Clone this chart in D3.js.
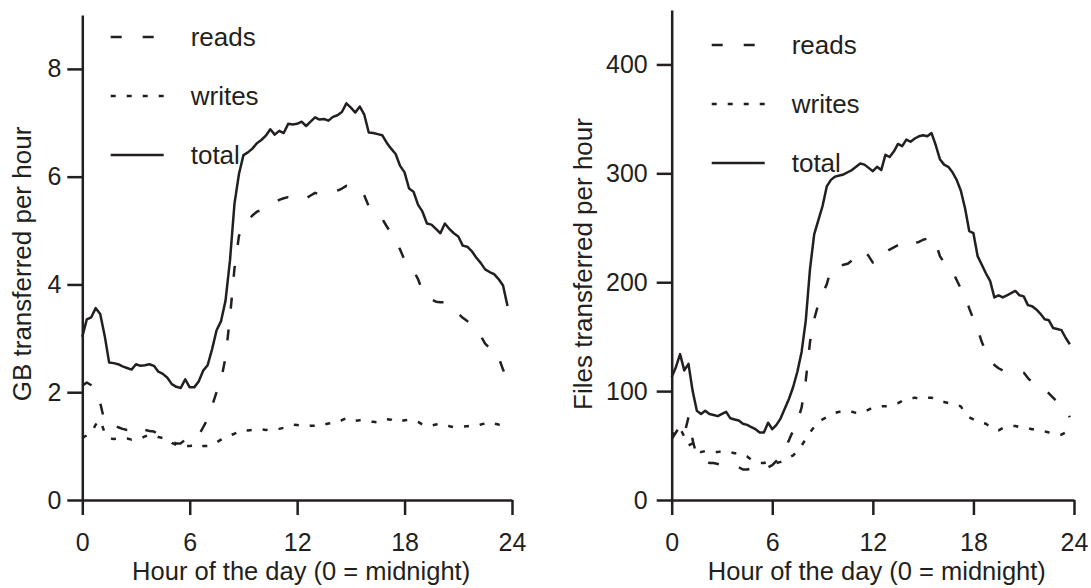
<!DOCTYPE html>
<html>
<head>
<meta charset="utf-8">
<script src="https://cdn.jsdelivr.net/npm/d3@7"></script>
<style>
  html, body { margin: 0; padding: 0; background: #fff; }
  svg { display: block; }
  text { font-family: "Liberation Sans", Arial, Helvetica, sans-serif; fill: #231f20; }
</style>
</head>
<body>
<svg id="chart" width="1091" height="588"></svg>
<script>
// Quarter-hour sample times (hour of the day)
const hours = [
  0, 0.25, 0.5, 0.75, 1, 1.25, 1.5, 1.75,
  2, 2.25, 2.5, 2.75, 3, 3.25, 3.5, 3.75,
  4, 4.25, 4.5, 4.75, 5, 5.25, 5.5, 5.75,
  6, 6.25, 6.5, 6.75, 7, 7.25, 7.5, 7.75,
  8, 8.25, 8.5, 8.75, 9, 9.25, 9.5, 9.75,
  10, 10.25, 10.5, 10.75, 11, 11.25, 11.5, 11.75,
  12, 12.25, 12.5, 12.75, 13, 13.25, 13.5, 13.75,
  14, 14.25, 14.5, 14.75, 15, 15.25, 15.5, 15.75,
  16, 16.25, 16.5, 16.75, 17, 17.25, 17.5, 17.75,
  18, 18.25, 18.5, 18.75, 19, 19.25, 19.5, 19.75,
  20, 20.25, 20.5, 20.75, 21, 21.25, 21.5, 21.75,
  22, 22.25, 22.5, 22.75, 23, 23.25, 23.5, 23.75
];

// GB transferred per hour
const gbReads = [
  2.12, 2.18, 2.13, 2.05, 1.80, 1.45, 1.45, 1.40,
  1.35, 1.32, 1.30, 1.30, 1.36, 1.38, 1.30, 1.28,
  1.27, 1.22, 1.16, 1.13, 1.08, 1.05, 1.05, 1.12,
  1.10, 1.12, 1.20, 1.35, 1.50, 1.75, 2.00, 2.22,
  2.65, 3.40, 4.30, 4.90, 5.12, 5.18, 5.28, 5.35,
  5.38, 5.43, 5.48, 5.53, 5.57, 5.60, 5.62, 5.58,
  5.56, 5.55, 5.60, 5.65, 5.70, 5.67, 5.66, 5.68,
  5.70, 5.74, 5.78, 5.83, 5.82, 5.80, 5.78, 5.65,
  5.45, 5.38, 5.30, 5.22, 5.08, 4.95, 4.80, 4.65,
  4.45, 4.35, 4.26, 4.10, 3.88, 3.76, 3.72, 3.68,
  3.67, 3.67, 3.60, 3.55, 3.46, 3.38, 3.32, 3.24,
  3.15, 3.05, 2.90, 2.82, 2.82, 2.65, 2.42, 2.22
];
const gbWrites = [
  1.15, 1.20, 1.25, 1.40, 1.48, 1.25, 1.15, 1.13,
  1.14, 1.14, 1.14, 1.12, 1.14, 1.14, 1.18, 1.21,
  1.20, 1.17, 1.15, 1.14, 1.06, 1.02, 1.00, 1.00,
  1.00, 1.02, 0.98, 1.00, 1.00, 1.03, 1.07, 1.12,
  1.16, 1.20, 1.23, 1.27, 1.30, 1.29, 1.30, 1.31,
  1.31, 1.30, 1.31, 1.31, 1.32, 1.34, 1.37, 1.40,
  1.39, 1.38, 1.37, 1.38, 1.38, 1.37, 1.40, 1.42,
  1.43, 1.44, 1.48, 1.52, 1.48, 1.47, 1.48, 1.48,
  1.46, 1.45, 1.44, 1.47, 1.50, 1.49, 1.45, 1.46,
  1.48, 1.49, 1.48, 1.45, 1.40, 1.37, 1.38, 1.40,
  1.42, 1.40, 1.37, 1.35, 1.36, 1.36, 1.37, 1.38,
  1.37, 1.40, 1.42, 1.45, 1.42, 1.40, 1.37, 1.35
];
const gbTotal = [
  3.03, 3.35, 3.39, 3.56, 3.45, 3.05, 2.55, 2.54,
  2.52, 2.48, 2.45, 2.42, 2.52, 2.49, 2.50, 2.52,
  2.49, 2.38, 2.34, 2.27, 2.15, 2.10, 2.08, 2.24,
  2.09, 2.09, 2.20, 2.40, 2.50, 2.80, 3.15, 3.32,
  3.70, 4.45, 5.50, 6.05, 6.40, 6.45, 6.52, 6.62,
  6.68, 6.76, 6.88, 6.78, 6.85, 6.81, 6.98, 6.97,
  6.98, 7.02, 6.94, 7.02, 7.10, 7.06, 7.07, 7.04,
  7.11, 7.14, 7.20, 7.36, 7.28, 7.19, 7.30, 7.15,
  6.82, 6.81, 6.79, 6.77, 6.63, 6.52, 6.42, 6.20,
  6.08, 5.78, 5.72, 5.48, 5.35, 5.13, 5.11, 5.03,
  4.95, 5.13, 5.03, 4.95, 4.89, 4.72, 4.70, 4.62,
  4.50, 4.40, 4.28, 4.23, 4.19, 4.10, 3.98, 3.60
];

// Files transferred per hour
const fileReads = [
  56, 62, 68, 60, 76, 55, 40, 38,
  36, 34, 34, 33, 32, 33, 31, 31,
  30, 28, 28, 29, 31, 29, 28, 30,
  32, 36, 40, 47, 55, 64, 72, 85,
  110, 145, 166, 180, 190, 198, 212, 215,
  215, 216, 217, 220, 222, 225, 229, 224,
  218, 218, 219, 227, 230, 232, 234, 236,
  239, 236, 236, 237, 239, 240, 242, 236,
  224, 218, 215, 210, 202, 194, 188, 176,
  166, 157, 145, 136, 130, 124, 121, 119,
  119, 118, 118, 118, 117, 112, 108, 105,
  103, 101, 98, 94, 90, 86, 83, 76
];
const fileWrites = [
  58, 64, 66, 58, 50, 52, 46, 44,
  45, 44, 44, 44, 45, 45, 44, 43,
  43, 42, 40, 37, 35, 34, 34, 35,
  34, 34, 35, 37, 39, 41, 45, 50,
  56, 62, 67, 72, 74, 76, 78, 80,
  81, 81, 82, 81, 80, 80, 81, 83,
  85, 86, 86, 86, 87, 88, 89, 91,
  92, 93, 94, 93, 93, 94, 94, 92,
  91, 90, 89, 88, 87, 86, 80, 76,
  74, 72, 71, 70, 67, 65, 64, 66,
  67, 68, 68, 67, 66, 66, 65, 65,
  64, 63, 62, 61, 61, 60, 62, 65
];
const fileTotal = [
  113, 122, 134, 119, 125, 100, 82, 79,
  82, 79, 78, 77, 79, 81, 75, 74,
  73, 70, 69, 67, 65, 62, 62, 71,
  65, 69, 75, 84, 93, 104, 118, 136,
  165, 212, 244, 257, 270, 288, 294, 297,
  298, 299, 301, 303, 306, 309, 308, 305,
  302, 306, 303, 317, 315, 320, 327, 325,
  331, 329, 332, 334, 335, 334, 337, 326,
  313, 308, 306, 301, 294, 284, 268, 247,
  245, 224, 216, 208, 201, 186, 188, 186,
  188, 190, 192, 188, 187, 179, 178, 175,
  171, 166, 165, 158, 157, 156, 149, 143
];

const seriesNames = ["reads", "writes", "total"];
const hourTicks = [0, 6, 12, 18, 24];
const gbTicks = [0, 2, 4, 6, 8];
const fileTicks = [0, 100, 200, 300, 400];
const xTitle = "Hour of the day (0 = midnight)";

const ink = "#231f20";
const dashes = { reads: "11,21", writes: "5,11", total: null };

const svg = d3.select("#chart");

function drawPanel(cfg) {
  const x = d3.scaleLinear().domain([0, 24]).range(cfg.xRange);
  const y = d3.scaleLinear().domain(cfg.yDomain).range(cfg.yRange);
  const g = svg.append("g");

  // axes: the end ticks at 0 cross at the corner
  const gx = g.append("g")
    .attr("transform", `translate(0,${y(0)})`)
    .call(d3.axisBottom(x).tickValues(hourTicks).tickSize(15).tickSizeOuter(0).tickPadding(18));
  const gy = g.append("g")
    .attr("transform", `translate(${x(0)},0)`)
    .call(d3.axisLeft(y).tickValues(cfg.ticks).tickSize(15).tickSizeOuter(0).tickPadding(cfg.yPad));
  [gx, gy].forEach(a => {
    a.selectAll("path.domain").attr("stroke", ink).attr("stroke-width", 2.5);
    a.selectAll(".tick line").attr("stroke", ink).attr("stroke-width", 2.5);
    a.selectAll(".tick text").attr("fill", ink)
      .style("font-size", "25px")
      .style("font-family", '"Liberation Sans", Arial, Helvetica, sans-serif');
  });

  // series lines
  const line = d3.line().x((d, i) => x(hours[i])).y(d => y(d));
  cfg.series.forEach((vals, k) => {
    g.append("path")
      .datum(vals)
      .attr("d", line)
      .attr("fill", "none")
      .attr("stroke", ink)
      .attr("stroke-width", 2.5)
      .attr("stroke-linejoin", "round")
      .attr("stroke-dasharray", dashes[seriesNames[k]]);
  });

  // legend
  const lg = g.append("g").attr("transform", `translate(${cfg.legend[0]},${cfg.legend[1]})`);
  seriesNames.forEach((name, k) => {
    const row = lg.append("g").attr("transform", `translate(0,${k * 59})`);
    row.append("line")
      .attr("x1", 0).attr("x2", 53).attr("y1", -9).attr("y2", -9)
      .attr("stroke", ink).attr("stroke-width", 2.5)
      .attr("stroke-dasharray", dashes[name]);
    row.append("text")
      .attr("x", 80).attr("y", 0)
      .style("font-size", "26px")
      .text(name);
  });

  // axis titles
  g.append("text")
    .attr("x", (cfg.xRange[0] + cfg.xRange[1]) / 2 + 4)
    .attr("y", 580)
    .attr("text-anchor", "middle")
    .style("font-size", "25.5px")
    .text(xTitle);
  g.append("text")
    .attr("transform", `translate(${cfg.yTitleX},264) rotate(-90)`)
    .attr("text-anchor", "middle")
    .style("font-size", "26px")
    .text(cfg.yTitle);
}

drawPanel({
  xRange: [82.3, 512],
  yDomain: [0, 9],
  yRange: [500, 15],
  ticks: gbTicks,
  yPad: 6,
  series: [gbReads, gbWrites, gbTotal],
  legend: [110.7, 46],
  yTitle: "GB transferred per hour",
  yTitleX: 31
});

drawPanel({
  xRange: [671.7, 1074],
  yDomain: [0, 450],
  yRange: [500, 10],
  ticks: fileTicks,
  yPad: 9,
  series: [fileReads, fileWrites, fileTotal],
  legend: [711.7, 54],
  yTitle: "Files transferred per hour",
  yTitleX: 592
});
</script>
</body>
</html>
